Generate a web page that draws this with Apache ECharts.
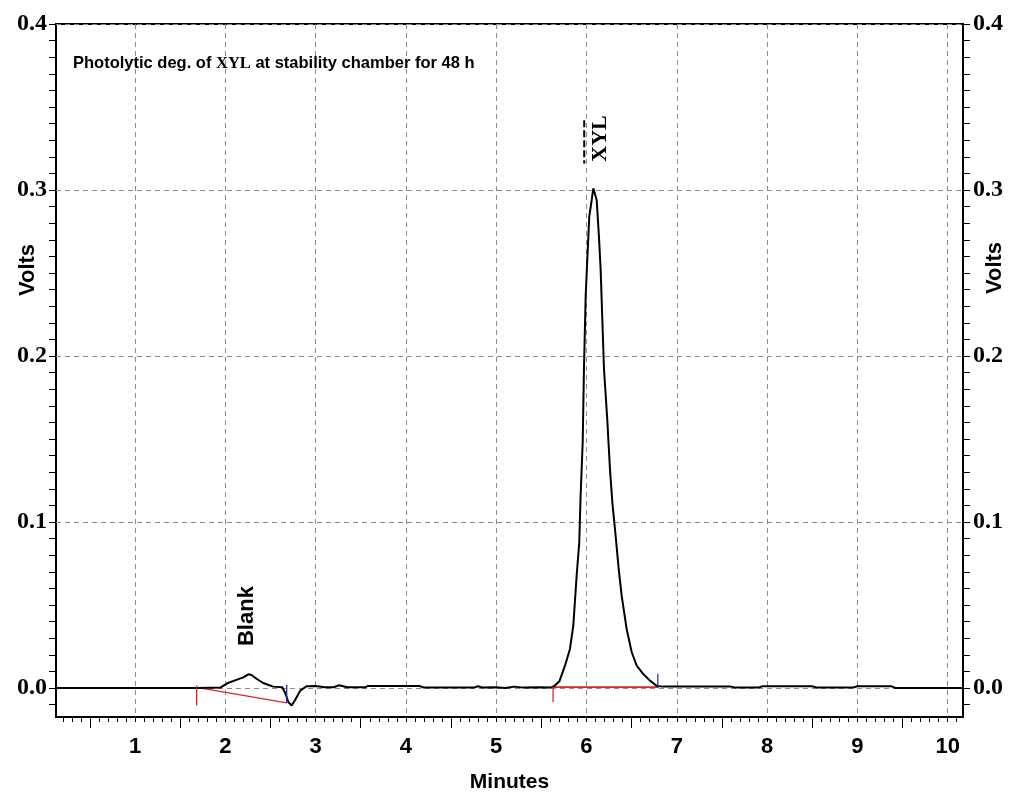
<!DOCTYPE html>
<html><head><meta charset="utf-8">
<script src="https://cdn.jsdelivr.net/npm/echarts@6.0.0/dist/echarts.min.js"></script>
<style>html,body{margin:0;padding:0;background:#fff}#chart{width:1009px;height:798px}</style>
</head><body><div id="chart"></div>
<script>
// ---- data ----
const xTickLabels = [1, 2, 3, 4, 5, 6, 7, 8, 9, 10];
const xHalfTicks = [0.5, 1.5, 2.5, 3.5, 4.5, 5.5, 6.5, 7.5, 8.5, 9.5];
const yTickLabels = [0.0, 0.1, 0.2, 0.3, 0.4];

const signalTime = [0.125, 1.68, 1.95, 2.03, 2.13, 2.20, 2.255, 2.29, 2.35, 2.42, 2.48, 2.53, 2.63, 2.66, 2.70, 2.735, 2.77, 2.83, 2.90, 3.00, 3.10, 3.20, 3.26, 3.35, 3.55, 3.58, 4.15, 4.20, 4.75, 4.80, 4.85, 5.00, 5.10, 5.20, 5.30, 5.45, 5.60,
  5.64, 5.70, 5.762, 5.817, 5.854, 5.891, 5.920, 5.935, 5.958, 5.972, 5.991, 6.009, 6.031, 6.058, 6.076, 6.094, 6.113, 6.138, 6.157, 6.194, 6.230, 6.260, 6.286, 6.323, 6.357, 6.390, 6.445, 6.501, 6.556, 6.629, 6.703, 6.78, 6.85,
  7.60, 7.65, 7.90, 7.95, 8.50, 8.55, 8.95, 9.00, 9.38, 9.42, 10.17];
const signalVolts = [0, 0, 0.0003, 0.003, 0.005, 0.0064, 0.0082, 0.0078, 0.0054, 0.003, 0.0018, 0.0008, 0.0004, -0.0026, -0.0086, -0.0106, -0.0076, -0.0016, 0.001, 0.0012, 0.0004, 0.0004, 0.0016, 0.0004, 0.0004, 0.0012, 0.0012, 0.0002, 0.0002, 0.001, 0.0002, 0.0004, 0.0, 0.0008, 0.0002, 0.0004, 0.0002,
  0.001, 0.004, 0.0134, 0.0235, 0.0375, 0.0676, 0.0876, 0.1157, 0.1478, 0.1919, 0.236, 0.258, 0.284, 0.294, 0.301, 0.300, 0.294, 0.272, 0.252, 0.192, 0.162, 0.132, 0.112, 0.0916, 0.0716, 0.0555, 0.0355, 0.0215, 0.0134, 0.0084, 0.0044, 0.0012, 0.0008,
  0.0008, 0.0002, 0.0002, 0.001, 0.001, 0.0002, 0.0002, 0.001, 0.001, 0, 0];

const blankBaseline = [[1.683, 0.0003], [2.68, -0.009]];
const peakBaseline = [[5.63, 0.0005], [6.79, 0.0005]];
const startMarkers = [[1.683, 0.0015], [1.683, -0.0105], null, [5.63, 0.0005], [5.63, -0.0085]];
const endMarkers = [[2.68, 0.002], [2.68, -0.009], null, [6.79, 0.0], [6.79, 0.0085]];
const peakLabelLine = [[5.975, 0.342], [5.975, 0.316]];
const peakNames = [
  { name: 'Blank', value: [2.24, 0.0433], font: 'Liberation Sans', size: 22 },
  { name: 'XYL', value: [6.15, 0.331], font: 'Liberation Serif', size: 22 }
];

// ---- chart ----
const X_MIN = 0.125, X_MAX = 10.17, Y_MIN = -0.0175, Y_MAX = 0.4;
const xMinor = []; for (let i = 2; i <= 101; i++) xMinor.push(i / 10);
const yMinor = []; for (let i = -1; i <= 39; i++) yMinor.push(i / 100);

const chart = echarts.init(document.getElementById('chart'), null, { renderer: 'canvas' });
const grid = { left: 56, right: 46, top: 24, bottom: 80, show: true, borderColor: '#000', borderWidth: 2, backgroundColor: 'transparent' };
const dashed = { show: true, lineStyle: { color: '#8a8a8a', width: 1, type: [5, 4] } };
const noLine = { show: false, onZero: false };
const noSplit = { show: false };

function xDecor(ticks, len) {
  return { type: 'value', min: X_MIN, max: X_MAX, position: 'bottom', axisLine: noLine, splitLine: noSplit,
    axisLabel: { show: false }, axisTick: { show: true, inside: false, length: len, customValues: ticks, lineStyle: { color: '#000', width: 1 } } };
}
function yDecor(pos, ticks, len) {
  return { type: 'value', min: Y_MIN, max: Y_MAX, position: pos, axisLine: noLine, splitLine: noSplit,
    axisLabel: { show: false }, axisTick: { show: true, inside: false, length: len, customValues: ticks, lineStyle: { color: '#000', width: 1 } } };
}
const yLabelStyle = { show: true, customValues: yTickLabels, formatter: v => v.toFixed(1), fontFamily: 'Liberation Serif', fontWeight: 'bold', fontSize: 24, color: '#000', margin: 9 };

chart.setOption({
  animation: false,
  backgroundColor: '#fff',
  title: {
    text: '{s|Photolytic deg. of }{x|XYL}{s| at stability chamber for 48 h}',
    left: 73, top: 55, padding: 0,
    textStyle: { rich: {
      s: { fontFamily: 'Liberation Sans', fontWeight: 'bold', fontSize: 16.5, color: '#000' },
      x: { fontFamily: 'Liberation Serif', fontWeight: 'bold', fontSize: 16.5, color: '#000' }
    } }
  },
  grid: grid,
  xAxis: [
    { type: 'value', min: X_MIN, max: X_MAX, position: 'bottom',
      name: 'Minutes', nameLocation: 'middle', nameGap: 55,
      nameTextStyle: { fontFamily: 'Liberation Sans', fontWeight: 'bold', fontSize: 21, color: '#000' },
      axisLine: noLine,
      axisTick: { show: true, length: 4, customValues: xTickLabels, lineStyle: { color: '#000' } },
      axisLabel: { show: true, customValues: xTickLabels, fontFamily: 'Liberation Sans', fontWeight: 'bold', fontSize: 22, color: '#000', margin: 19 },
      splitLine: dashed },
    xDecor(xHalfTicks, 11),
    xDecor(xMinor, 5)
  ],
  yAxis: [
    { type: 'value', min: Y_MIN, max: Y_MAX, position: 'left', axisLine: noLine,
      axisTick: { show: true, length: 7, customValues: yTickLabels, lineStyle: { color: '#000' } },
      axisLabel: yLabelStyle, splitLine: dashed },
    { type: 'value', min: Y_MIN, max: Y_MAX, position: 'right', axisLine: noLine,
      axisTick: { show: true, length: 7, customValues: yTickLabels, lineStyle: { color: '#000' } },
      axisLabel: Object.assign({}, yLabelStyle, { margin: 10 }), splitLine: noSplit },
    yDecor('left', yMinor, 7),
    yDecor('right', yMinor, 7)
  ],
  graphic: [
    { type: 'text', x: 28, y: 270, rotation: Math.PI / 2,
      style: { text: 'Volts', fontFamily: 'Liberation Sans', fontWeight: 'bold', fontSize: 22, fill: '#000', align: 'center', verticalAlign: 'middle' } },
    { type: 'text', x: 995, y: 268, rotation: Math.PI / 2,
      style: { text: 'Volts', fontFamily: 'Liberation Sans', fontWeight: 'bold', fontSize: 22, fill: '#000', align: 'center', verticalAlign: 'middle' } }
  ],
  series: [
    { type: 'line', data: blankBaseline, showSymbol: false, silent: true, lineStyle: { color: '#d42a2a', width: 1.3 }, z: 3 },
    { type: 'line', data: peakBaseline, showSymbol: false, silent: true, lineStyle: { color: '#d42a2a', width: 1.6 }, z: 3 },
    { type: 'line', data: signalTime.map((t, i) => [t, signalVolts[i]]), showSymbol: false, silent: true,
      lineStyle: { color: '#000', width: 2 }, z: 4 },
    { type: 'line', data: startMarkers, showSymbol: false, connectNulls: false, silent: true, lineStyle: { color: '#d42a2a', width: 1.3 }, z: 5 },
    { type: 'line', data: endMarkers, showSymbol: false, connectNulls: false, silent: true, lineStyle: { color: '#2b2b9a', width: 1.3 }, z: 5 },
    { type: 'line', data: peakLabelLine, showSymbol: false, silent: true, lineStyle: { color: '#000', width: 2, type: [7, 3] }, z: 5 },
    { type: 'scatter', symbolSize: 1, itemStyle: { color: 'rgba(0,0,0,0)', opacity: 1 }, silent: true, z: 6,
      data: peakNames.map(p => ({ name: p.name, value: p.value,
        label: { show: true, position: 'inside', rotate: 90, formatter: '{b}', fontFamily: p.font, fontWeight: 'bold', fontSize: p.size, color: '#000', opacity: 1, textBorderWidth: 0 } })) }
  ]
});
</script></body></html>
